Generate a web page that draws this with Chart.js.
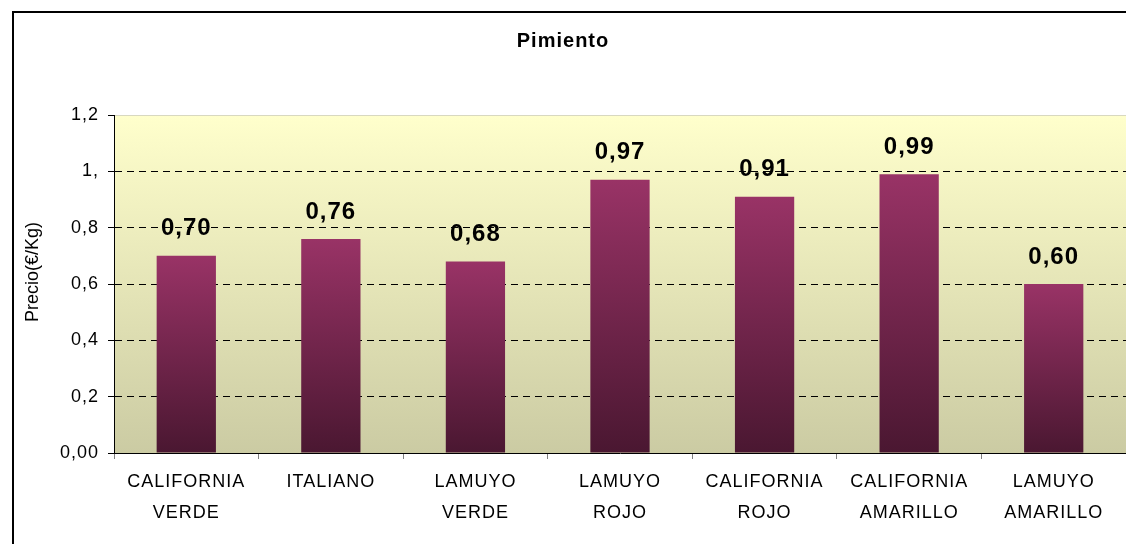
<!DOCTYPE html>
<html>
<head>
<meta charset="utf-8">
<script src="https://cdn.jsdelivr.net/npm/chart.js@4.4.0/dist/chart.umd.min.js"></script>
<style>
  html, body { margin: 0; padding: 0; background: #fff; }
  #wrap { position: relative; width: 1126px; height: 544px; }
</style>
</head>
<body>
<div id="wrap"><canvas id="chart"></canvas></div>
<script>
const categories = [
    ['CALIFORNIA', 'VERDE'],
    ['ITALIANO'],
    ['LAMUYO', 'VERDE'],
    ['LAMUYO', 'ROJO'],
    ['CALIFORNIA', 'ROJO'],
    ['CALIFORNIA', 'AMARILLO'],
    ['LAMUYO', 'AMARILLO']
];
const prices = [0.70, 0.76, 0.68, 0.97, 0.91, 0.99, 0.60];
const yTickLabels = ['0,00', '0,2', '0,4', '0,6', '0,8', '1,', '1,2'];
const yTitle = 'Precio(€/Kg)';

const FONT = '"Liberation Sans", Arial, sans-serif';

// the excel picture spaces its letters a bit wider
const spacing = {
    id: 'spacing',
    beforeUpdate(chart) { chart.ctx.letterSpacing = '1px'; },
    beforeDraw(chart) { chart.ctx.letterSpacing = '1px'; }
};

// frame of the chart + gradient plot background
const backgroundPlugin = {
    id: 'background',
    beforeDraw(chart) {
        const { ctx, chartArea } = chart;
        ctx.save();
        ctx.fillStyle = '#000';
        ctx.fillRect(12, 11, chart.width - 12, 2);
        ctx.fillRect(12, 11, 2, chart.height - 11);
        const g = ctx.createLinearGradient(0, chartArea.top, 0, chartArea.bottom);
        g.addColorStop(0, '#ffffcc');
        g.addColorStop(1, '#cbcba3');
        ctx.fillStyle = g;
        ctx.fillRect(chartArea.left, chartArea.top, chartArea.right - chartArea.left, chartArea.bottom - chartArea.top);
        ctx.strokeStyle = '#d8d8c0';
        ctx.lineWidth = 1;
        ctx.beginPath();
        ctx.moveTo(chartArea.left, chartArea.top + 0.5);
        ctx.lineTo(chartArea.right, chartArea.top + 0.5);
        ctx.stroke();
        ctx.restore();
    }
};

// value labels above the bars, y axis title
const valueLabels = {
    id: 'valueLabels',
    afterDatasetsDraw(chart) {
        const { ctx } = chart;
        const meta = chart.getDatasetMeta(0);
        ctx.save();
        ctx.font = 'bold 24px ' + FONT;
        ctx.fillStyle = '#000';
        ctx.textAlign = 'center';
        ctx.textBaseline = 'middle';
        meta.data.forEach((bar, i) => {
            const txt = prices[i].toFixed(2).replace('.', ',');
            ctx.fillText(txt, bar.x, bar.y - 27);
        });
        ctx.restore();
    },
    afterDraw(chart) {
        const { ctx } = chart;
        ctx.save();
        ctx.letterSpacing = '0px';
        ctx.font = '18px ' + FONT;
        ctx.fillStyle = '#000';
        ctx.textAlign = 'center';
        ctx.textBaseline = 'middle';
        ctx.translate(33, 272);
        ctx.rotate(-Math.PI / 2);
        ctx.fillText(yTitle, 0, 0);
        ctx.restore();
    }
};

const ctx = document.getElementById('chart').getContext('2d');
new Chart(ctx, {
    type: 'bar',
    data: {
        labels: categories,
        datasets: [{
            data: prices,
            backgroundColor: c => {
                const y = c.chart.scales.y;
                if (!y || c.type !== 'data') return '#7a2850';
                const top = y.getPixelForValue(c.raw);
                const bottom = y.getPixelForValue(0);
                if (!isFinite(top) || !isFinite(bottom)) return '#7a2850';
                const g = c.chart.ctx.createLinearGradient(0, top, 0, bottom);
                g.addColorStop(0, '#993366');
                g.addColorStop(1, '#4a1731');
                return g;
            },
            borderWidth: 0,
            categoryPercentage: 1,
            barPercentage: 0.41
        }]
    },
    options: {
        responsive: true,
        maintainAspectRatio: false,
        animation: false,
        layout: { padding: { left: 0, right: 0, top: 0, bottom: 0 } },
        plugins: {
            legend: { display: false },
            tooltip: { enabled: false },
            title: {
                display: true,
                text: 'Pimiento',
                color: '#000',
                font: { family: FONT, size: 20, weight: 'bold' },
                padding: { top: 29, bottom: 62 }
            }
        },
        scales: {
            x: {
                afterFit: s => { s.height = 91; },
                grid: {
                    offset: true,
                    drawOnChartArea: false,
                    color: '#808080',
                    tickLength: 6
                },
                border: { color: '#000', width: 1 },
                ticks: {
                    color: '#000',
                    autoSkip: false,
                    maxRotation: 0,
                    padding: 8,
                    font: { family: FONT, size: 18, lineHeight: 31 / 18 }
                }
            },
            y: {
                min: 0,
                max: 1.2,
                afterFit: s => { s.width = 114; },
                grid: {
                    color: c => (c.tick && (c.tick.value < 0.01 || c.tick.value > 1.19)) ? 'rgba(0,0,0,0)' : '#000',
                    tickColor: '#000',
                    lineWidth: 1,
                    tickLength: 6
                },
                border: { color: '#000', width: 1, dash: [7, 5] },
                ticks: {
                    stepSize: 0.2,
                    color: '#000',
                    padding: 9,
                    font: { family: FONT, size: 18 },
                    callback: (v, i) => yTickLabels[i]
                }
            }
        }
    },
    plugins: [spacing, backgroundPlugin, valueLabels]
});
</script>
</body>
</html>
